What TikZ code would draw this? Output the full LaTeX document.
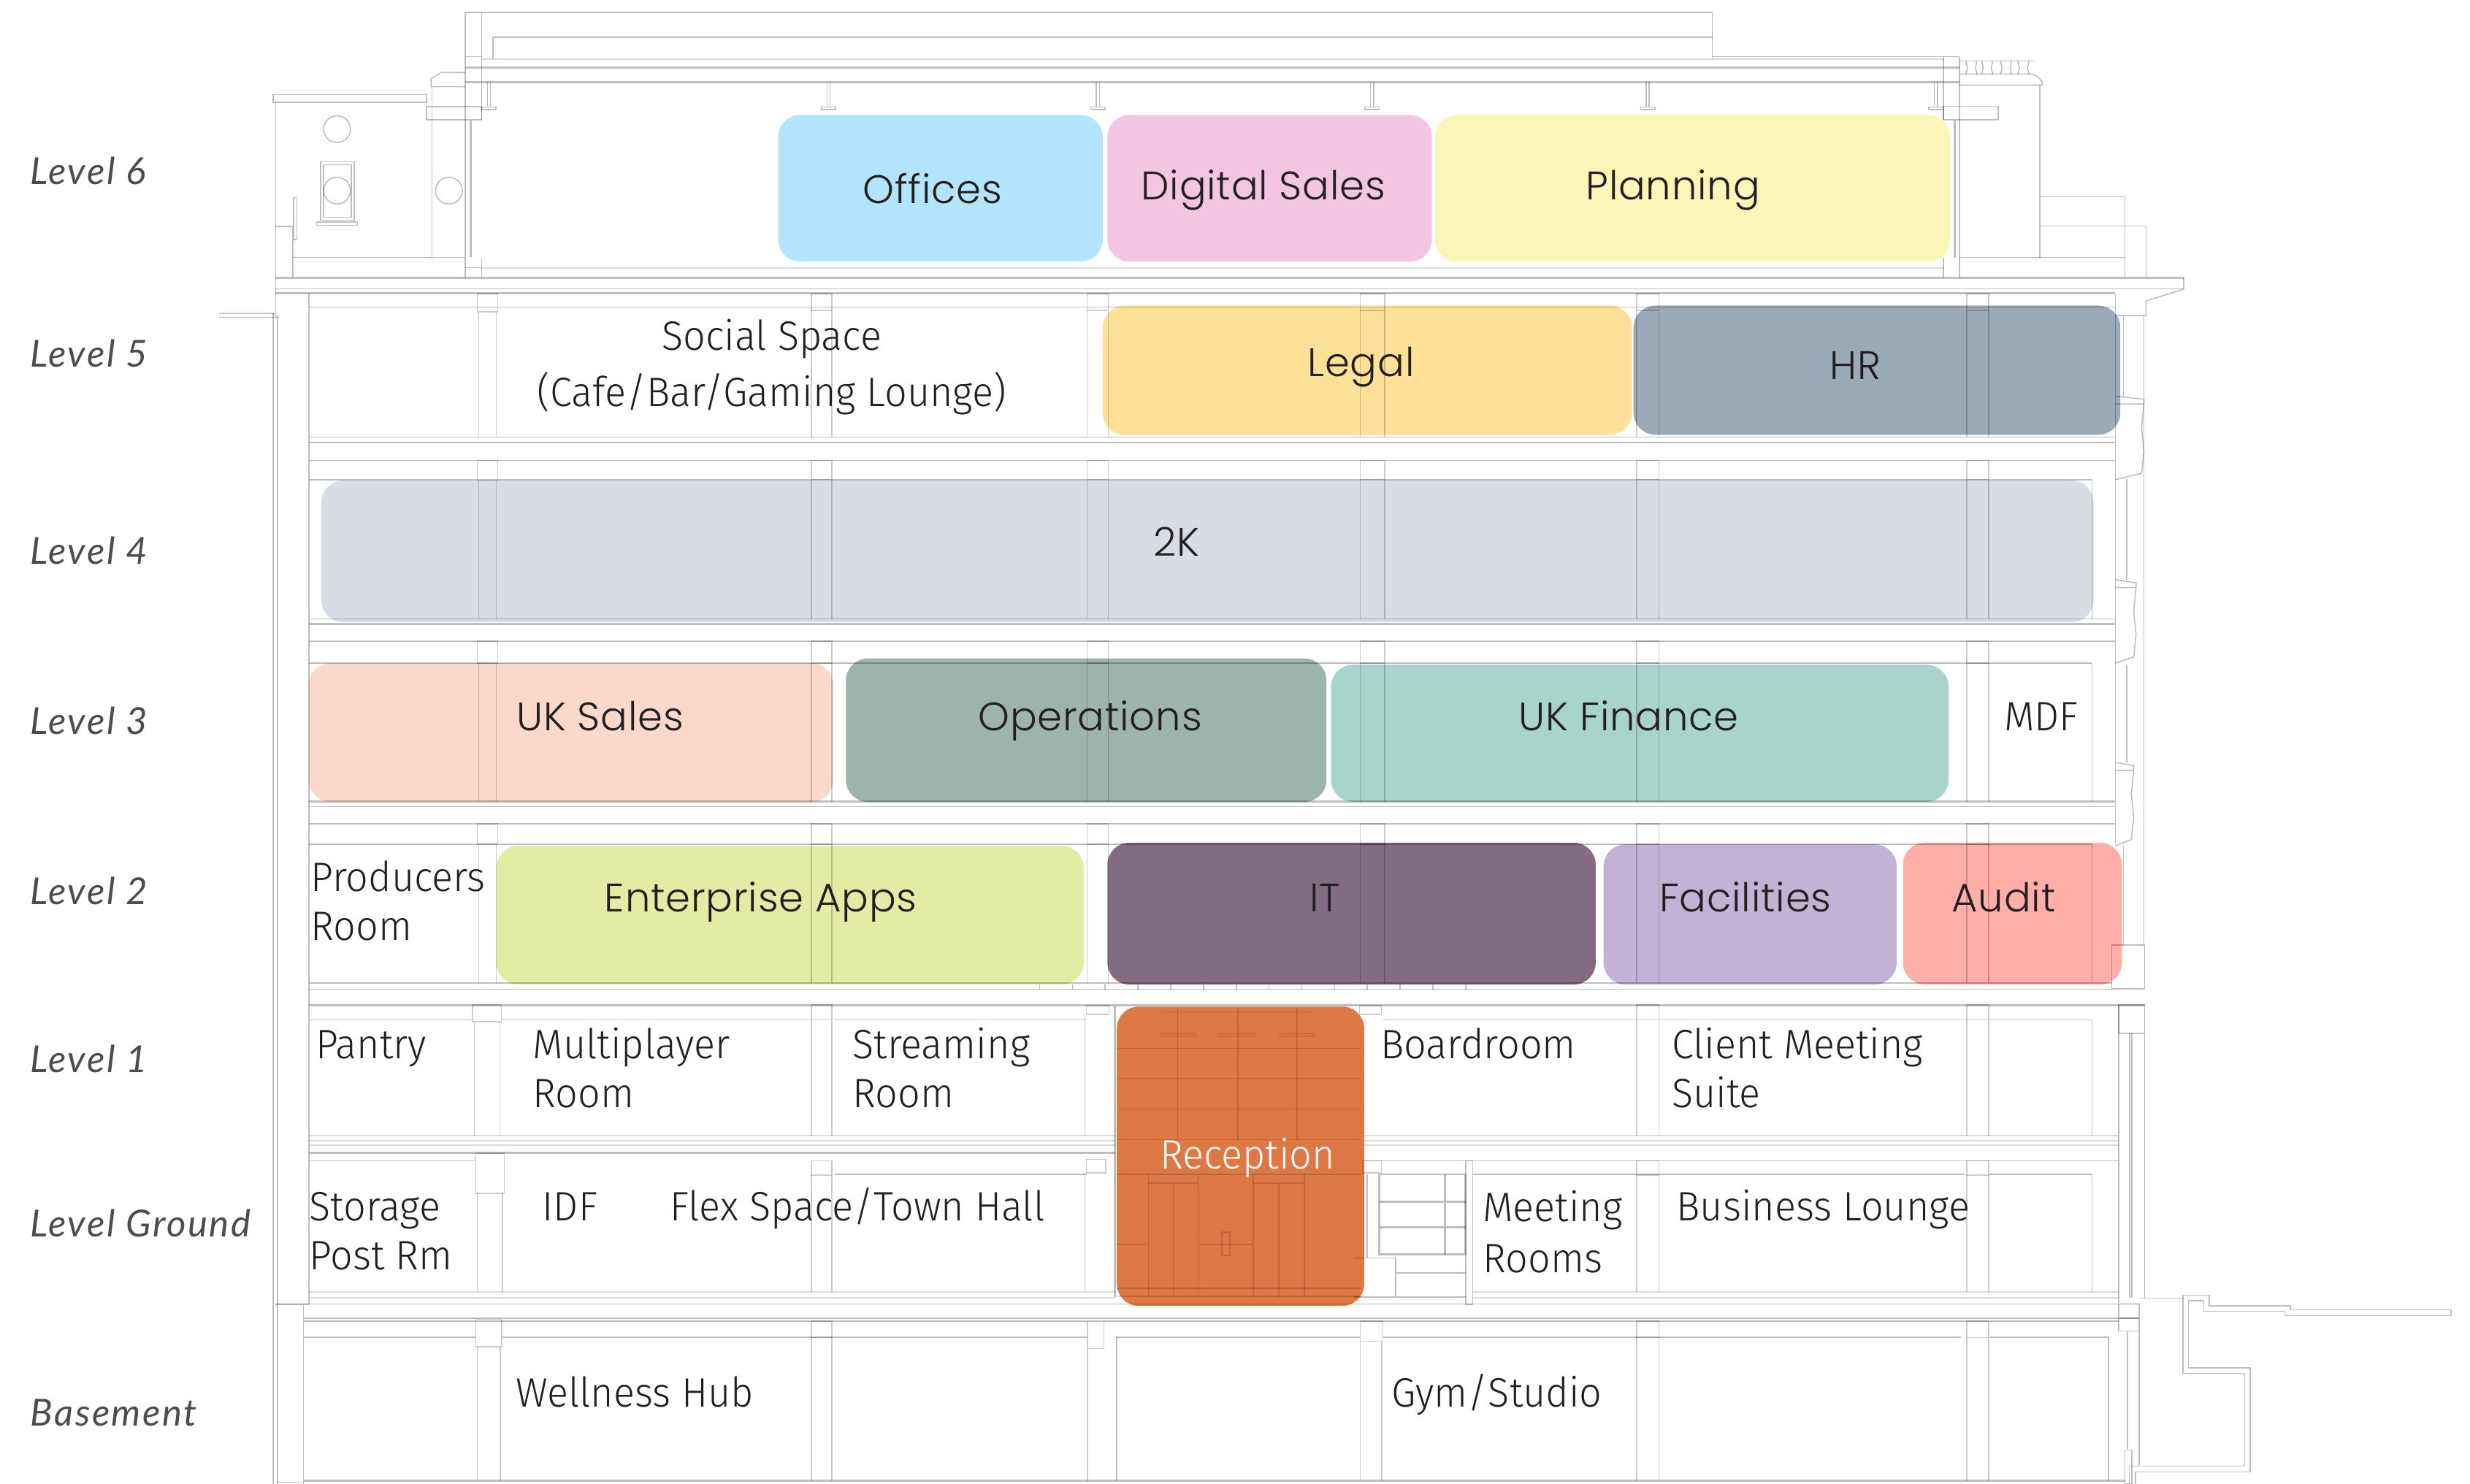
\documentclass[tikz,border=0pt]{standalone}
\usepackage{fontspec}
\newfontfamily\roomfont[FakeStretch=0.96]{Fira Sans Light}
\newfontfamily\deptfont[LetterSpace=1.5]{Poppins Light}
\newfontfamily\levelfont[ItalicFont=Lato Italic,LetterSpace=5]{Lato}
\definecolor{wireline}{HTML}{BEBEBE}
\definecolor{wirecol}{HTML}{CDCDCD}
\definecolor{wirelite}{HTML}{DADADA}
\definecolor{inkdark}{HTML}{231F20}
\definecolor{offices}{HTML}{B2E5FB}
\definecolor{digital}{HTML}{F2C6E0}
\definecolor{planning}{HTML}{F9F6B8}
\definecolor{legal}{HTML}{FEE196}
\definecolor{hr}{HTML}{9AAAB9}
\definecolor{twok}{HTML}{D8DDE3}
\definecolor{uksales}{HTML}{FAD9CA}
\definecolor{operations}{HTML}{9CB5AB}
\definecolor{ukfinance}{HTML}{A9D4CC}
\definecolor{enterprise}{HTML}{E3ECA4}
\definecolor{itdept}{HTML}{836C81}
\definecolor{facilities}{HTML}{C1B2D6}
\definecolor{audit}{HTML}{FFAEA8}
\definecolor{reception}{HTML}{DE7845}
\tikzstyle{wire} = [draw=wireline,line width=.45pt]
\tikzstyle{colwire} = [draw=wirecol,line width=.4pt]
\tikzstyle{heavy} = [draw=wireline,line width=.8pt]
\tikzstyle{lite} = [draw=wirelite,line width=.5pt]
\tikzstyle{deptbox} = [rounded corners=.3cm]
\tikzstyle{deptlabel} = [anchor=base,inner sep=0,text=inkdark,font=\deptfont\fontsize{15.5}{15.5}\selectfont]
\tikzstyle{roomlabel} = [anchor=base west,inner sep=0,text=inkdark,align=left,font=\roomfont\fontsize{16}{19}\selectfont]
\tikzstyle{levellabel} = [anchor=base west,inner sep=0,text=black!70,font=\levelfont\itshape\fontsize{14.5}{14.5}\selectfont]

\begin{document}
\begin{tikzpicture}[x=0.02157cm,y=-0.02157cm]
\useasboundingbox (0,0) rectangle (1568,942);

% department blocks
\foreach \xa/\ya/\xb/\yb/\col in {494/73/700/166/offices,703/73/909/166/digital,911/73/1238/166/planning,
	700/194/1036/276/legal,1037/194/1346/276/hr,204/305/1329/395/twok,
	196/421/529/509/uksales,537/418/842/509/operations,845/422/1237/509/ukfinance,
	315/537/688/625/enterprise,703/535/1013/625/itdept,1018/536/1204/625/facilities,1208/535/1347/625/audit,
	709/639/866/829/reception}
	\fill[deptbox,fill=\col] (\xa,\ya) rectangle (\xb,\yb);

\begin{scope}[blend mode=multiply]
% roof
\draw[wire] (295.4,176) -- (295.4,8) -- (1087,8) -- (1087,37);
\draw[wire] (305.8,8) -- (305.8,76) (305.8,163.5) -- (305.8,176);
\draw[wire] (313,37.5) -- (313,23.6) -- (1087,23.6);
\draw[lite] (306,37.5) -- (1234,37.5) (306,170) -- (1234,170);
\draw[wire] (295.4,36) -- (305.8,36) (1087,36) -- (1244,36);
\draw[heavy] (295.4,43) -- (1244,43) (295.4,52) -- (1244,52);
\draw[wire] (1233.7,36) -- (1233.7,76) (1233.7,163.5) -- (1233.7,176) (1244,36) -- (1244,176);
\foreach \x in {310.4,526,697,871,1046,1229}
	\draw[wire] (\x-1,52) -- (\x-1,68) (\x+1,52) -- (\x+1,68) (\x-4.5,68) rectangle (\x+4.5,69.5);
% left annex
\draw[wire] (173.5,60) rectangle (270.7,65);
\draw[wire] (175,65) -- (175,199);
\draw (214,82) circle (8.5) [wire];
\draw (214,121) circle (8.5) [wire];
\draw (285,121) circle (8.5) [wire];
\draw[wire] (203.4,102.6) rectangle (224.8,139.7) (205.3,104.6) rectangle (223,138) (201,141) rectangle (227,143);
\draw[wire] (274.3,55) -- (274.3,163.5);
\draw[wire] (273.6,55) -- (273.6,50) -- (280,46) -- (295.4,46) (273.6,55) -- (295.4,55);
\draw[wire] (270.7,67.7) rectangle (305.8,76);
\draw[heavy] (298.7,76.5) -- (298.7,163);
\draw[wire] (186,163.5) -- (295.4,163.5) (295.4,170) -- (305.8,170);
\draw[wire] (186,176) -- (186,143.6) -- (175,143.6) (186.5,125.5) rectangle (188.4,152);
% right annex
\foreach \x in {1248,1258,1270,1281}
	\draw[wire] (\x,38.7) -- (\x+1,43) -- (\x,47) (\x+7,38.7) -- (\x+6,43) -- (\x+7,47);
\draw[wire] (1244,38.7) -- (1291,38.7);
\draw[wire] (1244,47) -- (1288,47) .. controls (1293,47) and (1296,50) .. (1296.7,54) -- (1244,54);
\draw[wire] (1295,54) -- (1295,163.5);
\draw[wire] (1233.7,67.5) rectangle (1268.5,76);
\draw[heavy] (1241,76.6) -- (1241,163.5);
\draw[wire] (1244,163.5) -- (1349,163.5);
\draw[wire] (1295,125) -- (1349,125) -- (1349,176) (1295,143.5) -- (1362.3,143.5) -- (1362.3,176);
% cornice
\draw[heavy] (175,176.4) -- (1386.3,176.4);
\draw[wire] (175,183.4) -- (1386.3,183.4) -- (1386.3,176.4);
\draw[wire] (1386.3,183.6) -- (1362.3,191) -- (1362.3,200.4) -- (1342.8,200.4);
\draw[heavy] (175,186.3) -- (1342.8,186.3);
% outer walls
\draw[wire] (196.2,186.3) -- (196.2,828);
\draw[wire] (1342.8,186.3) -- (1342.8,536);
\draw[wire] (1361,200.4) -- (1361,600) (1348,200.4) -- (1348,252) (1350,304) -- (1350,368) (1350,422) -- (1350,484) (1348,536.7) -- (1348,600);
\draw[wire] (139,199) -- (174,199) -- (176.4,201.5) -- (139,201.5);
\draw[wire] (173.4,199) -- (173.4,942) (176.2,201.5) -- (176.2,942);
\draw[wire] (175,828) -- (196.2,828) (192.7,828) -- (192.7,942) (176.2,941) -- (192.7,941);
% wall ornaments on the right
\foreach \ya/\xr in {251.5/1361,368/1356,484/1354.5}
	\draw[wire] (1342.8,\ya) -- (\xr,\ya+2) -- (\xr,\ya+5) -- (1342.8,\ya+5) (\xr,\ya+5) -- (\xr-1.5,\ya+20) -- (\xr,\ya+35) -- (\xr-1.5,\ya+49) -- (1342.8,\ya+53);
% floor slabs
\foreach \y in {195,277.4,281,292.3,393,407,512,523}
	\draw[wire] (196.2,\y) -- (1342.8,\y);
\foreach \y in {396,509}
	\draw[heavy] (196.2,\y) -- (1342.8,\y);
\foreach \y in {304.5,421,536}
	\draw[wire] (196.2,\y) -- (1328,\y);
\draw[heavy] (196.2,624) -- (1341,624);
\draw[wire] (196.2,628) -- (1341,628);
\draw[heavy] (196.2,638) -- (1361.5,638);
\foreach \x in {660,680.8,...,950}
	\draw[wire] (\x,625) -- (\x,628);
\draw[wire] (1340.6,600) rectangle (1361.5,627.7) (1345,638) rectangle (1361.5,656);
\draw[wire] (1345,638) -- (1345,827) (1361.5,656) -- (1361.5,824) (1353.4,656) -- (1353.4,824) (1352,656) -- (1352,824);
% level 1 and ground
\foreach \xa/\xb in {196.2/300,318.4/516,529.7/690,878/1039,1053/1249,1263/1328}
	\draw[wire] (\xa,647.5) -- (\xb,647.5);
\foreach \y in {721,724.3,727}
	\draw[lite] (196.2,\y) -- (708,\y) (866,\y) -- (1345,\y);
\draw[heavy] (196.2,732) -- (708,732);
\draw[wire] (196.2,737) -- (302,737) (866,737) -- (1345,737);
\draw[wire] (529.7,745.5) -- (690,745.5) (935,745.5) -- (1247,745.5) (1263,745.5) -- (1328,745.5);
\foreach \y in {820,824}
	\draw[lite] (196.2,\y) -- (708,\y) (935,\y) -- (1345,\y);
\draw[wire] (175,827.8) -- (1358,827.8);
\draw[heavy] (192.7,836.8) -- (1358,836.8);
\draw[wire] (192.7,838.6) -- (1345,838.6);
% basement
\foreach \xa/\xb in {192.7/302,319/690.4,709/863.5,878/1245,1263.4/1338.6}
	\draw[wire] (\xa,849) -- (\xb,849);
\draw[heavy] (192.7,940) -- (1349,940);
\draw[wire] (709,849) -- (709,940) (1338.6,849) -- (1338.6,940);
\draw[wire] (1345,827.8) rectangle (1358,836.8) (1345,837) rectangle (1358,845);
\draw[wire] (1358,845) -- (1358,930) (1350.6,845) -- (1350.6,920) (1349,920.6) rectangle (1353.4,942);
% columns
\foreach \ya/\yb/\yc in {186.3/197/277.4,292.3/304.5/393,407/421/509,523/536/624,638/647.5/721,737/746/820,838.6/849/940}{
	\foreach \xa/\xb in {515/528,1039/1053,1248.5/1262.5}{
		\draw[colwire] (\xa,\ya) rectangle (\xb,\yb);
		\draw[colwire] (\xa,\yb) -- (\xa,\yc) (\xb,\yb) -- (\xb,\yc);
	}
}
\foreach \ya/\yb/\yc in {186.3/197/277.4,292.3/304.5/393,407/421/509,523/536/624}{
	\foreach \xa/\xb in {690/703.5,863.5/879}{
		\draw[colwire] (\xa,\ya) rectangle (\xb,\yb);
		\draw[colwire] (\xa,\yb) -- (\xa,\yc) (\xb,\yb) -- (\xb,\yc);
	}
}
\draw[colwire] (689.7,638.4) rectangle (703.9,644) (863,638.4) rectangle (877,644) (689.7,736) rectangle (702,744.5) (865,737) rectangle (877,744.5);
\draw[colwire] (688.7,644) -- (688.7,721) (688.7,744.5) -- (688.7,820);
\draw[colwire] (690.4,838.6) -- (690.4,940) (690.4,856) -- (700.8,856) -- (700.8,838.6) (863.5,838.6) rectangle (878,851.5) (863.5,851.5) -- (863.5,940) (877.2,851.5) -- (877.2,940);
\foreach \xa/\xb/\ya/\yb/\yc in {303/316/186.3/198/277.4,303/316/292.3/304.7/393,303/316/407/421/509,303/316/523/536/624,
	300/318.4/638/648.6/721,302/320/732/757.6/820,302/318.6/837.5/855/940}{
	\draw[colwire] (\xa,\ya) rectangle (\xb,\yb);
	\draw[colwire] (\xa+1,\yb) -- (\xa+1,\yc) (\xb-1,\yb) -- (\xb-1,\yc);
}
\draw[wire] (1328,304.5) -- (1328,393) (1328,421) -- (1328,509) (1328,536) -- (1328,624) (1328,647.5) -- (1328,721) (1328,745.5) -- (1328,820);
% reception frame
\draw[heavy] (707.6,639) -- (707.6,823.5);
\foreach \x in {747.6,785.7,823.5}
	\draw[lite] (\x,640) -- (\x,723.5);
\foreach \y in {665.5,684.5,704,723.5,745.5}
	\draw[lite] (709,\y) -- (864,\y);
\draw[lite,opacity=.6] (737,656) rectangle (759,658) (774,656) rectangle (797,658) (812,656) rectangle (834,658);
\draw[lite] (737.7,642.3) -- (833.5,642.3);
\foreach \x in {729,760.6,795.6,828}
	\draw[lite] (\x,745.5) -- (\x,823.5);
\draw[lite] (744.8,751) -- (744.8,823.5) (811.7,751) -- (811.7,823.5) (729,751) -- (760.6,751) (795.6,751) -- (828,751) (709,790) -- (728,790) (761,790) -- (795,790);
\draw[lite] (775.8,782) rectangle (780.7,797) (709,818) -- (864,818) (709,823) -- (864,823);
% stair
\draw[heavy] (875.6,745.5) rectangle (930.4,796.4);
\draw[heavy] (875.6,762.8) -- (930.4,762.8) (875.6,779) -- (930.4,779) (917.4,745.5) -- (917.4,796.4);
\draw[wire] (930.4,737) rectangle (935,828);
\draw[wire] (867.8,745.5) -- (867.8,798.5) (859.5,798.5) -- (886,798.5) -- (886,823.4) -- (859.5,823.4) (886,808) -- (930.4,808) (866,823.4) -- (930.4,823.4);
% retaining wall
\draw[wire] (1358.5,824) -- (1385.7,824) -- (1385.7,822.2) -- (1402.6,822.2) -- (1402.6,829) -- (1454,829) -- (1454,831.6) -- (1556,831.6) -- (1556,835.2) -- (1450.5,835.2) -- (1450.5,832.5) -- (1399,832.5) -- (1399,825.8) -- (1389.2,825.8) -- (1389.2,868.3) -- (1428.5,868.3) -- (1428.5,934.4) -- (1355.7,934.4) -- (1355.7,942);
\draw[wire] (1385.7,824) -- (1385.7,871.9) -- (1425,871.9) -- (1425,930.8) -- (1351.8,930.8) -- (1351.8,942);
\end{scope}

\node[levellabel] (lv6) at (19,117) {Level 6};
\node[levellabel] (lv5) at (19,233) {Level 5};
\node[levellabel] (lv4) at (19,358) {Level 4};
\node[levellabel] (lv3) at (19,466) {Level 3};
\node[levellabel] (lv2) at (19,574) {Level 2};
\node[levellabel] (lv1) at (19,681) {Level 1};
\node[levellabel] (lvg) at (19,785) {Level Ground};
\node[levellabel] (lvb) at (19,905) {Basement};

\node[deptlabel] (offices) at (592,129) {Offices};
\node[deptlabel] (digital) at (802,127) {Digital Sales};
\node[deptlabel] (planning) at (1062,127) {Planning};
\node[deptlabel] (legal) at (864,239) {Legal};
\node[deptlabel] (hr) at (1178,241) {HR};
\node[deptlabel] (twok) at (747,353) {2K};
\node[deptlabel] (uksales) at (381,464) {UK Sales};
\node[deptlabel] (operations) at (692,464) {Operations};
\node[deptlabel] (ukfinance) at (1034,464) {UK Finance};
\node[deptlabel] (enterprise) at (483,579) {Enterprise Apps};
\node[deptlabel] (itdept) at (841,579) {IT};
\node[deptlabel] (facilities) at (1108,579) {Facilities};
\node[deptlabel] (audit) at (1272,579) {Audit};

\node[roomlabel,align=center,anchor=base] (social) at (490,258) {Social Space\\[3pt](Cafe/Bar/Gaming Lounge)};
\node[roomlabel] (mdf) at (1272,464) {MDF};
\node[roomlabel] (producers) at (197,597) {Producers\\Room};
\node[roomlabel] (pantry) at (200,672) {Pantry};
\node[roomlabel] (multiplayer) at (338,703) {Multiplayer\\Room};
\node[roomlabel] (streaming) at (541,703) {Streaming\\Room};
\node[roomlabel] (boardroom) at (876,672) {Boardroom};
\node[roomlabel] (client) at (1061,703) {Client Meeting\\Suite};
\node[roomlabel,text=white,anchor=base] (recep) at (792,742) {Reception};
\node[roomlabel] (storage) at (196,806) {Storage\\Post Rm};
\node[roomlabel] (idf) at (344,775) {IDF};
\node[roomlabel] (flex) at (425,775) {Flex Space/Town Hall};
\node[roomlabel] (meeting) at (941,808) {Meeting\\[1pt]Rooms};
\node[roomlabel] (lounge) at (1064,775) {Business Lounge};
\node[roomlabel] (wellness) at (327,893) {Wellness Hub};
\node[roomlabel] (gym) at (883,893) {Gym/Studio};

\end{tikzpicture}
\end{document}
